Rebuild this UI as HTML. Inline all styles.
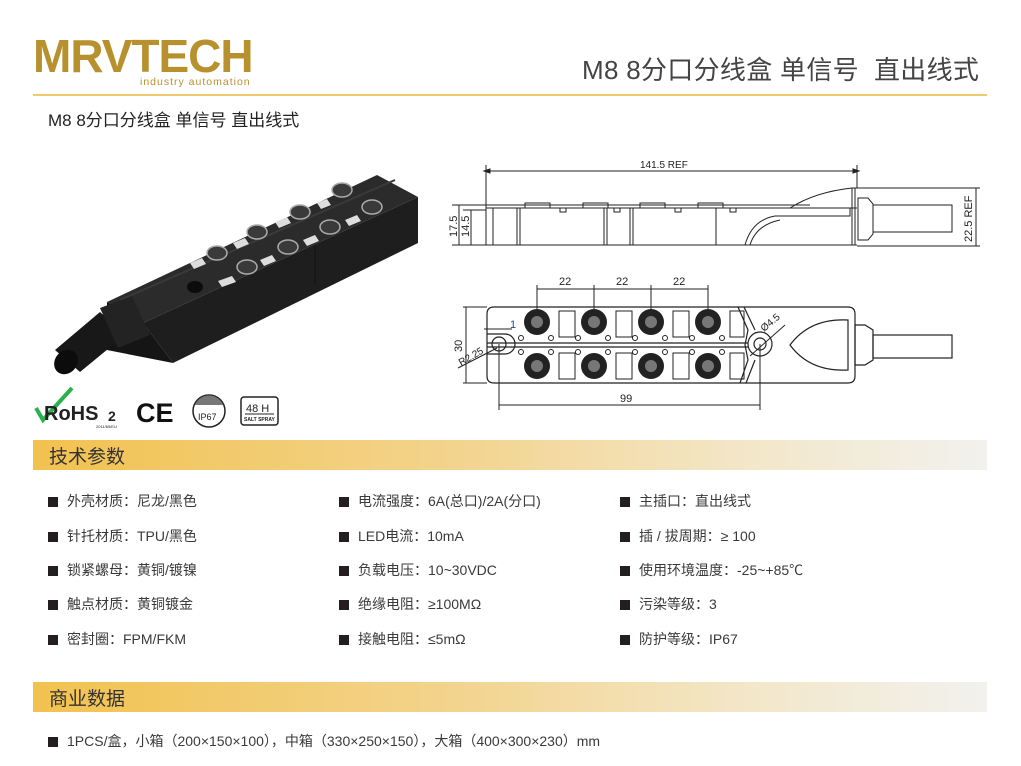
<!DOCTYPE html>
<html><head><meta charset="utf-8">
<style>
body{margin:0;width:1021px;height:766px;background:#fff;position:relative;overflow:hidden;font-family:"Liberation Sans","Noto Sans CJK SC",sans-serif;color:#333}
.a{position:absolute;white-space:nowrap}
.bar{position:absolute;left:33px;width:954px;height:30px;background:linear-gradient(90deg,#f2c24f 0%,#f3d48f 45%,#f3e7c9 75%,#f2f1ee 100%)}
.bar span{position:absolute;left:16px;top:2px;font-size:19px;color:#333}
.it{position:absolute;font-size:14px;color:#3a3a3a;white-space:nowrap}
.it:before{content:"";display:inline-block;width:10px;height:10px;background:#231f20;margin-right:9px;vertical-align:-1px}
</style></head><body>
<div class="a" style="left:33px;top:31px;font-size:46px;font-weight:bold;color:#b8912f;letter-spacing:-1px;line-height:50px;font-family:'Liberation Sans',sans-serif">MRVTECH</div>
<div class="a" style="left:140px;top:76px;font-size:10.5px;color:#b8912f;letter-spacing:1px">industry automation</div>
<div class="a" style="left:582px;top:50px;font-size:26px;color:#444;letter-spacing:0.3px">M8 8分口分线盒 单信号&nbsp; 直出线式</div>
<div style="position:absolute;left:33px;top:94px;width:954px;height:2px;background:#f0ca6c"></div>
<div class="a" style="left:48px;top:106px;font-size:17px;color:#222">M8 8分口分线盒 单信号 直出线式</div>

<svg style="position:absolute;left:0;top:0" width="1021" height="766">
<!-- product -->
<g>
<!-- front face -->
<polygon points="143,323 418,197 418,243 173,363" fill="#1e1e1e"/>
<!-- top face -->
<polygon points="107,302 377,175 418,197 143,323" fill="#2b2b2b"/>
<!-- left end face -->
<polygon points="107,302 143,323 173,363 107,350" fill="#151515"/>
<line x1="120" y1="300" x2="395" y2="180" stroke="#3a3a3a" stroke-width="2"/>
<line x1="315" y1="245" x2="315" y2="285" stroke="#111" stroke-width="1"/>
<!-- cable -->
<polygon points="55,350 100,312 125,335 80,372" fill="#181818"/>
<ellipse cx="66" cy="362" rx="11" ry="13" fill="#0c0c0c" transform="rotate(40 66 362)"/>
<polygon points="100,308 132,296 150,335 118,348" fill="#232323"/>
<g fill="#3a3a3a" stroke="#aaa" stroke-width="1.5">
<ellipse cx="342" cy="190" rx="10" ry="7"/><ellipse cx="300" cy="212" rx="10" ry="7"/><ellipse cx="257" cy="232" rx="10" ry="7"/><ellipse cx="217" cy="253" rx="10" ry="7"/>
<ellipse cx="372" cy="207" rx="10" ry="7"/><ellipse cx="330" cy="227" rx="10" ry="7"/><ellipse cx="288" cy="247" rx="10" ry="7"/><ellipse cx="247" cy="267" rx="10" ry="7"/>
</g>
<g fill="#ddd">
<polygon points="317,203 327,199 331,205 321,209"/><polygon points="275,222 287,217 291,223 279,228"/><polygon points="233,243 245,238 249,244 237,249"/><polygon points="190,263 202,258 206,264 194,269"/>
<polygon points="345,220 357,215 361,221 349,226"/><polygon points="303,240 315,235 319,241 307,246"/><polygon points="260,260 272,255 276,261 264,266"/><polygon points="218,281 232,276 236,282 222,287"/>
</g>
<ellipse cx="195" cy="287" rx="8" ry="6" fill="#0c0c0c"/>
</g>
<!-- certs -->
<path d="M36,408 L43,420 L72,388" stroke="#2bb24c" stroke-width="4" fill="none"/>
<text x="44" y="420" font-family="Liberation Sans" font-weight="bold" font-size="20" fill="#222">RoHS</text>
<text x="108" y="421" font-family="Liberation Sans" font-weight="bold" font-size="14" fill="#222">2</text>
<text x="96" y="428" font-family="Liberation Sans" font-size="4" fill="#222">2011/65/EU</text>
<text x="136" y="422" font-family="Liberation Sans" font-weight="bold" font-size="27" fill="#111">CE</text>
<circle cx="209" cy="411" r="16" fill="#fff" stroke="#222" stroke-width="1.5"/>
<path d="M195,405 A15,15 0 0 1 223,405 Z" fill="#777"/>
<text x="198" y="420" font-family="Liberation Sans" font-size="9" fill="#222">IP67</text>
<rect x="241" y="397" width="37" height="28" rx="3" fill="#fff" stroke="#222" stroke-width="1.5"/>
<text x="246" y="412" font-family="Liberation Sans" font-size="11" fill="#222">48 H</text>
<line x1="245" y1="414" x2="274" y2="414" stroke="#222"/>
<text x="244" y="421" font-family="Liberation Sans" font-size="5" font-weight="bold" fill="#222">SALT SPRAY</text>

<!-- side view -->
<g stroke="#222" stroke-width="1" fill="none">
<line x1="486" y1="171" x2="857" y2="171"/><line x1="486" y1="165" x2="486" y2="245"/><line x1="857" y1="165" x2="857" y2="188"/>
<polygon points="484,171 490,169 490,173" fill="#222"/><polygon points="859,171 853,169 853,173" fill="#222"/>
<line x1="486" y1="205" x2="810" y2="205"/>
<line x1="486" y1="208" x2="857" y2="208"/>
<line x1="486" y1="245" x2="857" y2="245"/>
<line x1="493" y1="208" x2="493" y2="245"/>
<line x1="517" y1="208" x2="517" y2="245"/><line x1="520" y1="208" x2="520" y2="245"/>
<line x1="604" y1="208" x2="604" y2="245"/><line x1="607" y1="208" x2="607" y2="245"/>
<line x1="630" y1="208" x2="630" y2="245"/><line x1="633" y1="208" x2="633" y2="245"/>
<line x1="716" y1="208" x2="716" y2="245"/>
<path d="M525,208 V203 H550 V208 M583,208 V203 H608 V208 M640,208 V203 H665 V208 M698,208 V203 H723 V208"/>
<rect x="560" y="208" width="6" height="4"/><rect x="614" y="208" width="6" height="4"/><rect x="675" y="208" width="6" height="4"/><rect x="730" y="208" width="6" height="4"/>
<path d="M790,208 Q815,192 852,188 H857"/>
<path d="M745,245 Q752,220 775,216 H850 V208"/>
<path d="M750,245 Q756,225 780,220"/>
<line x1="852" y1="188" x2="852" y2="245"/><line x1="855" y1="188" x2="855" y2="245"/>
<path d="M858,198 H868 L873,204 V234 L868,240 H858 Z"/>
<rect x="873" y="205" width="79" height="27"/>
<line x1="857" y1="188" x2="980" y2="188"/><line x1="857" y1="246" x2="980" y2="246"/>
<line x1="976" y1="188" x2="976" y2="246"/>
<line x1="452" y1="205" x2="486" y2="205"/><line x1="463" y1="210" x2="486" y2="210"/>
<line x1="452" y1="245" x2="486" y2="245"/>
<line x1="459" y1="205" x2="459" y2="245"/><line x1="471" y1="210" x2="471" y2="245"/>
</g>
<g font-family="Liberation Sans" font-size="10" fill="#222">
<text x="640" y="168">141.5 REF</text>
<text transform="translate(972,242) rotate(-90)" font-size="11">22.5 REF</text>
<text transform="translate(457,237) rotate(-90)" font-size="11">17.5</text>
<text transform="translate(469,237) rotate(-90)" font-size="11">14.5</text>
</g>

<!-- top view -->
<g stroke="#222" stroke-width="1.2" fill="none">
<path d="M494,307 H765 M494,307 Q487,307 487,314 V376 Q487,383 494,383 H848 Q855,383 855,376 V314 Q855,307 848,307 H765"/>
<line x1="487" y1="343" x2="748" y2="343"/><line x1="487" y1="347" x2="748" y2="347"/>
<path d="M738,307 L748,330 L745,345 L748,360 L740,383"/>
<path d="M744,307 L755,330 M755,360 L746,383"/>
<path d="M790,345 Q810,318 848,320 V370 Q810,372 790,345 Z"/>
<circle cx="499" cy="344" r="7"/>
<path d="M487,334 H505 A10,10 0 0 1 505,354 H487"/>
<circle cx="760" cy="344" r="12"/><circle cx="760" cy="344" r="6"/>
<path d="M855,325 H865 L873,330 V360 L865,365 H855 Z"/>
<rect x="873" y="335" width="79" height="23"/>
<g stroke-width="1">
<rect x="559" y="311" width="16" height="26"/><rect x="616" y="311" width="16" height="26"/><rect x="673" y="311" width="16" height="26"/><rect x="730" y="311" width="14" height="26"/>
<rect x="559" y="353" width="16" height="26"/><rect x="616" y="353" width="16" height="26"/><rect x="673" y="353" width="16" height="26"/><rect x="730" y="353" width="14" height="26"/>
<g>
<circle cx="521" cy="338" r="2.5"/><circle cx="551" cy="338" r="2.5"/><circle cx="578" cy="338" r="2.5"/><circle cx="608" cy="338" r="2.5"/><circle cx="635" cy="338" r="2.5"/><circle cx="665" cy="338" r="2.5"/><circle cx="692" cy="338" r="2.5"/><circle cx="722" cy="338" r="2.5"/>
<circle cx="521" cy="352" r="2.5"/><circle cx="551" cy="352" r="2.5"/><circle cx="578" cy="352" r="2.5"/><circle cx="608" cy="352" r="2.5"/><circle cx="635" cy="352" r="2.5"/><circle cx="665" cy="352" r="2.5"/><circle cx="692" cy="352" r="2.5"/><circle cx="722" cy="352" r="2.5"/>
</g>
<line x1="537" y1="289" x2="708" y2="289"/>
<line x1="537" y1="285" x2="537" y2="322"/><line x1="594" y1="285" x2="594" y2="322"/><line x1="651" y1="285" x2="651" y2="322"/><line x1="708" y1="285" x2="708" y2="322"/>
<line x1="499" y1="344" x2="499" y2="410"/><line x1="760" y1="344" x2="760" y2="410"/>
<line x1="499" y1="405" x2="760" y2="405"/>
<line x1="463" y1="307" x2="487" y2="307"/><line x1="463" y1="383" x2="487" y2="383"/>
<line x1="466" y1="307" x2="466" y2="383"/>
<line x1="458" y1="368" x2="497" y2="348"/>
<line x1="750" y1="356" x2="785" y2="325"/>
<line x1="484" y1="329" x2="512" y2="329"/>
</g>
</g>
<g fill="#222">
<circle cx="537" cy="322" r="13"/><circle cx="594" cy="322" r="13"/><circle cx="651" cy="322" r="13"/><circle cx="708" cy="322" r="13"/>
<circle cx="537" cy="366" r="13"/><circle cx="594" cy="366" r="13"/><circle cx="651" cy="366" r="13"/><circle cx="708" cy="366" r="13"/>
</g>
<g fill="#777">
<circle cx="537" cy="322" r="6"/><circle cx="594" cy="322" r="6"/><circle cx="651" cy="322" r="6"/><circle cx="708" cy="322" r="6"/>
<circle cx="537" cy="366" r="6"/><circle cx="594" cy="366" r="6"/><circle cx="651" cy="366" r="6"/><circle cx="708" cy="366" r="6"/>
</g>
<g font-family="Liberation Sans" font-size="11" fill="#222">
<text x="559" y="285">22</text><text x="616" y="285">22</text><text x="673" y="285">22</text>
<text x="620" y="402">99</text>
<text transform="translate(462,352) rotate(-90)">30</text>
<text transform="translate(461,366) rotate(-30)" font-size="10">R2.25</text>
<text x="510" y="328" fill="#1a4aa0">1</text>
<text transform="translate(764,332) rotate(-40)" font-size="10">Ø4.5</text>
</g>
</svg>

<div class="bar" style="top:440px"><span>技术参数</span></div>
<div class="it" style="left:48px;top:491px">外壳材质：尼龙/黑色</div>
<div class="it" style="left:48px;top:526px">针托材质：TPU/黑色</div>
<div class="it" style="left:48px;top:560px">锁紧螺母：黄铜/镀镍</div>
<div class="it" style="left:48px;top:594px">触点材质：黄铜镀金</div>
<div class="it" style="left:48px;top:629px">密封圈：FPM/FKM</div>
<div class="it" style="left:339px;top:491px">电流强度：6A(总口)/2A(分口)</div>
<div class="it" style="left:339px;top:526px">LED电流：10mA</div>
<div class="it" style="left:339px;top:560px">负载电压：10~30VDC</div>
<div class="it" style="left:339px;top:594px">绝缘电阻：≥100MΩ</div>
<div class="it" style="left:339px;top:629px">接触电阻：≤5mΩ</div>
<div class="it" style="left:620px;top:491px">主插口：直出线式</div>
<div class="it" style="left:620px;top:526px">插 / 拔周期：≥ 100</div>
<div class="it" style="left:620px;top:560px">使用环境温度：-25~+85℃</div>
<div class="it" style="left:620px;top:594px">污染等级：3</div>
<div class="it" style="left:620px;top:629px">防护等级：IP67</div>

<div class="bar" style="top:682px"><span>商业数据</span></div>
<div class="it" style="left:48px;top:731px">1PCS/盒，小箱（200×150×100），中箱（330×250×150），大箱（400×300×230）mm</div>
</body></html>
